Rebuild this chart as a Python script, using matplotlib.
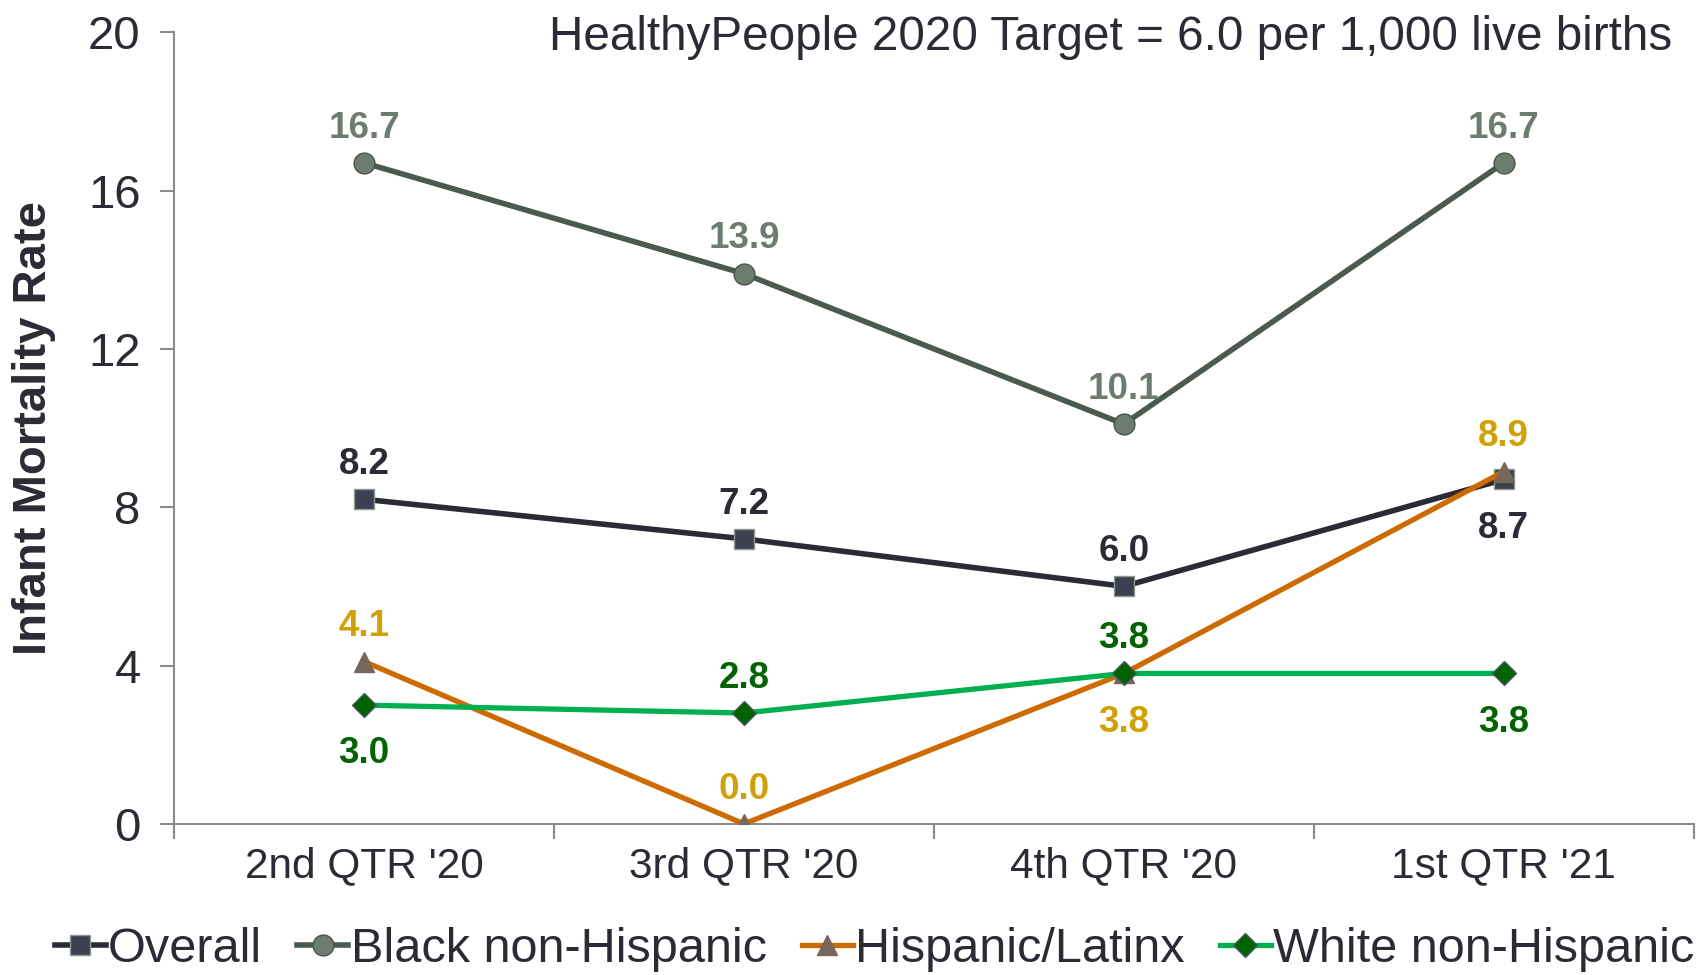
import matplotlib
matplotlib.use("Agg")
import matplotlib.pyplot as plt
from matplotlib.ticker import FixedLocator

categories = ["2nd QTR '20", "3rd QTR '20", "4th QTR '20", "1st QTR '21"]
overall = [8.2, 7.2, 6.0, 8.7]
black_nh = [16.7, 13.9, 10.1, 16.7]
hispanic = [4.1, 0.0, 3.8, 8.9]
white_nh = [3.0, 2.8, 3.8, 3.8]
y_ticks = [0, 4, 8, 12, 16, 20]
title_text = "HealthyPeople 2020 Target = 6.0 per 1,000 live births"

plt.rcParams['font.family'] = ['Liberation Sans', 'DejaVu Sans']

fig = plt.figure(figsize=(16.98, 9.75), dpi=100)
ax = fig.add_axes([0.1025, 0.155, 0.895, 0.812])
x = list(range(len(categories)))

series = [
    ("Overall", overall, dict(color="#2B2A35", marker="s", mfc="#3F3F52", mec="#8A9A8C", ms=14, lw=4.0),
     "#2B2A35", ["up", "up", "up", "down"]),
    ("Black non-Hispanic", black_nh, dict(color="#4B5A4F", marker="o", mfc="#6C7D6F", mec="#47554A", ms=15, lw=4.0),
     "#6C7D6F", ["up", "up", "up", "up"]),
    ("Hispanic/Latinx", hispanic, dict(color="#CF6A00", marker="^", mfc="#77665A", mec="#77665A", ms=15, lw=3.8),
     "#D4A000", ["up", "up", "down", "up"]),
    ("White non-Hispanic", white_nh, dict(color="#00B050", marker="D", mfc="#006400", mec="#4A5565", ms=12, lw=3.8),
     "#006400", ["down", "up", "up", "down"]),
]

handles = []
for name, vals, style, lab_col, pos in series:
    h, = ax.plot(x, vals, label=name, zorder=3, **style)
    handles.append(h)
    for xi, v, p in zip(x, vals, pos):
        off = 25 if p == "up" else -35
        ax.annotate(f"{v:.1f}", (xi, v), xytext=(0, off), textcoords="offset points",
                    ha="center", va="center", fontsize=26.5, fontweight="bold", color=lab_col, zorder=4)

ax.set_xlim(-0.5, 3.5)
ax.set_ylim(0, 20)
ax.set_yticks(y_ticks)
ax.set_xticks(x)
ax.set_xticklabels(categories)
ax.xaxis.set_minor_locator(FixedLocator([-0.5, 0.5, 1.5, 2.5, 3.5]))
ax.tick_params(axis="x", which="major", length=0, pad=16, labelsize=30.5, labelcolor="#2B2A35")
ax.tick_params(axis="x", which="minor", length=11, width=1.5, color="#8C8C8C", direction="out")
ax.tick_params(axis="y", which="major", length=10, width=1.5, color="#8C8C8C", pad=14,
               labelsize=34, labelcolor="#2B2A35")
for s in ["top", "right"]:
    ax.spines[s].set_visible(False)
for s in ["left", "bottom"]:
    ax.spines[s].set_color("#8C8C8C")
    ax.spines[s].set_linewidth(1.5)

ax.set_ylabel("Infant Mortality Rate", fontsize=34, fontweight="bold", color="#2B2A35")
ax.yaxis.set_label_coords(-0.078, 0.5)

fig.text(0.985, 0.985, title_text, ha="right", va="top", fontsize=34.3, color="#2B2A35")

leg = fig.legend(handles=handles, loc="center", bbox_to_anchor=(0.515, 0.026), ncol=4, frameon=False,
                 fontsize=35, handlelength=1.05, handletextpad=0.05, columnspacing=0.72,
                 borderaxespad=0)
for t in leg.get_texts():
    t.set_color("#2B2A35")

fig.savefig("out.png", dpi=100)
